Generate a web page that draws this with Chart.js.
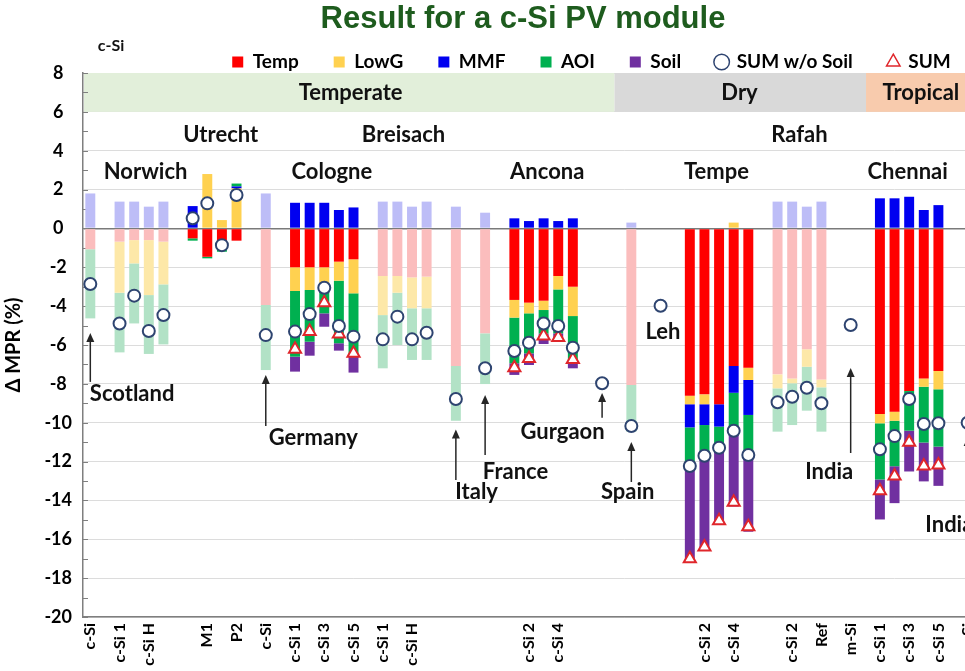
<!DOCTYPE html>
<html>
<head>
<meta charset="utf-8">
<script src="https://cdn.jsdelivr.net/npm/chart.js@4.4.1/dist/chart.umd.min.js"></script>
<style>
html,body{margin:0;padding:0;overflow:hidden;background:#fff;width:965px;height:671px;}
#wrap{position:relative;width:965px;height:671px;overflow:hidden;}
#title{position:absolute;top:0px;left:0;width:1046px;text-align:center;font:bold 31px "Liberation Sans",Arial,sans-serif;color:#1E5C1E;z-index:2;white-space:nowrap;line-height:36px;}
canvas{position:absolute;left:0;top:0;}
</style>
</head>
<body>
<div id="wrap">
  <div id="title">Result for a c-Si PV module</div>
  <canvas id="c" width="1183" height="671"></canvas>
</div>
<script>
// ---------- data ----------
const categories = [
  'c-Si','', 'c-Si 1','c-Si 2','c-Si H','c-Si P','',
  'c-Si','M1','P1','P2','',
  'c-Si','',
  'c-Si 1','c-Si 2','c-Si 3','c-Si 4','c-Si 5','',
  'c-Si 1','c-Si 2','c-Si H','c-Si P','',
  'c-Si','', 'c-Si','',
  'c-Si 1','c-Si 2','c-Si 3','c-Si 4','c-Si 5','',
  'c-Si','', 'c-Si','', 'c-Si','',
  'c-Si 1','c-Si 2','c-Si 3','c-Si 4','c-Si 5','',
  'c-Si 1','c-Si 2','c-Si 3','Ref','',
  'm-Si','',
  'c-Si 1','c-Si 2','c-Si 3','c-Si 4','c-Si 5','',
  'c-Si'
];
const hiddenTail = 13; // categories cropped off at the right edge

const temp = [
  -1.07,null, -0.68,-0.60,-0.60,-0.68,null,
  -0.51,-1.46,-1.10,-0.63,null,
  -3.94,null,
  -2.00,-2.00,-2.00,-1.71,-1.59,null,
  -2.45,-2.45,-2.52,-2.48,null,
  -7.08,null, -5.40,null,
  -3.68,-3.82,-3.72,-2.45,-3.00,null,
  null,null, -8.06,null, null,null,
  -8.61,-8.54,-9.05,-7.08,-7.17,null,
  -7.51,-7.72,-6.22,-7.77,null,
  null,null,
  -9.55,-9.43,-8.37,-7.72,-7.34,null,
  null
];
const lowG = [
  0,null, -2.63,-1.20,-2.83,-2.20,null,
  0,2.80,0.43,2.06,null,
  0,null,
  -1.22,-1.17,-1.17,-0.98,-1.75,null,
  -2.01,-0.86,-1.59,-1.63,null,
  0,null, 0,null,
  -0.91,-0.55,-0.48,-0.69,-1.51,null,
  null,null, 0,null, null,null,
  -0.44,-0.51,0,0.30,-0.63,null,
  -0.72,-0.25,-0.90,-0.41,null,
  null,null,
  -0.48,-0.47,0,-0.43,-0.94,null,
  null
];
const mmf = [
  1.80,null, 1.38,1.38,1.12,1.38,null,
  1.15,0,0,0.10,null,
  1.80,null,
  1.32,1.32,1.32,0.95,1.08,null,
  1.38,1.38,1.12,1.38,null,
  1.12,null, 0.81,null,
  0.52,0.38,0.52,0.38,0.52,null,
  null,null, 0.30,null, null,null,
  -1.19,-1.07,-1.15,-1.38,-1.80,null,
  1.38,1.38,1.12,1.38,null,
  null,null,
  1.55,1.55,1.63,0.95,1.20,null,
  null
];
const aoi = [
  -3.56,null, -3.07,-3.09,-3.03,-3.09,null,
  -0.12,-0.08,-0.10,0.15,null,
  -3.35,null,
  -3.38,-2.66,-1.20,-3.22,-3.21,null,
  -2.74,-2.69,-2.66,-2.66,null,
  -2.82,null, -2.61,null,
  -2.35,-2.06,-1.21,-2.26,-2.26,null,
  null,null, -2.41,null, null,null,
  -1.99,-1.58,-1.09,-1.95,-2.06,null,
  -2.23,-2.15,-2.26,-2.28,null,
  null,null,
  -2.89,-2.34,-2.04,-2.87,-2.95,null,
  null
];
const soil = [
  null,null, null,null,null,null,null,
  null,null,null,null,null,
  null,null,
  -0.77,-0.72,-0.69,-0.38,-0.87,null,
  null,null,null,null,null,
  null,null, null,null,
  -0.60,-0.60,-0.54,-0.43,-0.43,null,
  null,null, null,null, null,null,
  -4.84,-4.80,-3.85,-3.90,-3.95,null,
  null,null,null,null,null,
  null,null,
  -2.06,-1.90,-2.10,-2.00,-2.02,null,
  null
];
const sumWoSoil = [
  -2.86,null, -4.89,-3.46,-5.28,-4.46,null,
  0.52,1.29,-0.86,1.72,null,
  -5.49,null,
  -5.31,-4.41,-3.05,-5.02,-5.57,null,
  -5.71,-4.54,-5.71,-5.37,null,
  -8.78,null, -7.20,null,
  -6.31,-5.88,-4.89,-5.02,-6.14,null,
  -7.97,null, -10.17,null, -3.98,null,
  -12.23,-11.70,-11.29,-10.41,-11.66,null,
  -8.95,-8.66,-8.20,-9.00,null,
  -4.97,null,
  -11.37,-10.69,-8.78,-10.07,-10.03,null,
  -10.00
];
const sumAll = [
  null,null, null,null,null,null,null,
  null,null,null,null,null,
  null,null,
  -6.22,-5.31,-3.82,-5.43,-6.43,null,
  null,null,null,null,null,
  null,null, null,null,
  -7.17,-6.69,-5.54,-5.61,-6.74,null,
  null,null, null,null, null,null,
  -17.00,-16.40,-15.04,-14.10,-15.35,null,
  null,null,null,null,null,
  null,null,
  -13.50,-12.74,-11.01,-12.23,-12.18,null,
  null
];
// categories drawn with pale (translucent-looking) colours
const fadedIdx = [0,2,3,4,5,12,20,21,22,23,25,27,37,47,48,49,50];

// annotations in data coordinates (category index, % value)
const climateBands = [
  {text:'Temperate', from:-0.5, to:35.85, labelAt:17.8, color:'#E2EFDA'},
  {text:'Dry',       from:35.85, to:53.05, labelAt:44.4, color:'#D9D9D9'},
  {text:'Tropical',  from:53.05, to:75,   labelAt:56.8, color:'#F8CBAD'}
];
const siteLabels = [
  {text:'Norwich', x:3.78, y:2.9}, {text:'Utrecht', x:8.92, y:4.8},
  {text:'Breisach', x:21.42, y:4.8}, {text:'Cologne', x:16.52, y:2.9},
  {text:'Ancona', x:31.25, y:2.9}, {text:'Tempe', x:42.82, y:2.9},
  {text:'Rafah', x:48.5, y:4.8}, {text:'Chennai', x:55.9, y:2.9},
  {text:'Scotland', x:2.86, y:-8.52}, {text:'Germany', x:15.25, y:-10.79},
  {text:'Italy', x:26.42, y:-13.57}, {text:'France', x:29.08, y:-12.54},
  {text:'Gurgaon', x:32.3, y:-10.48}, {text:'Spain', x:36.75, y:-13.57},
  {text:'Leh', x:39.16, y:-5.33}, {text:'India', x:50.53, y:-12.54},
  {text:'India', x:58.75, y:-15.27}
];
const arrows = [
  {x:0, from:-7.9, to:-5.38}, {x:12, from:-10.17, to:-7.55},
  {x:25, from:-12.95, to:-10.35}, {x:27, from:-11.66, to:-8.57},
  {x:35, from:-9.75, to:-8.47}, {x:37, from:-13.05, to:-10.99},
  {x:52, from:-11.56, to:-7.19}, {x:60, from:-14.0, to:-10.73}
];
const cornerLabel = {text:'c-Si', x:1.42, y:9.39};

// ---------- styling ----------
const FONT = 'Lato';
const full = {temp:'#FF0000', lowG:'#FFD150', mmf:'#0000F0', aoi:'#00B050', soil:'#7030A0'};
const pale = {temp:'#FBBDBD', lowG:'#FDE8A8', mmf:'#BDBDF7', aoi:'#B2E2C6', soil:'#D4C0E3'};
const allLabels = categories.concat(Array(hiddenTail).fill(''));

function barSet(label, data, key) {
  return {
    type:'bar', label, data, stack:'parts', order:2,
    backgroundColor: c => fadedIdx.includes(c.dataIndex) ? pale[key] : full[key],
    borderWidth:0, barPercentage:0.68, categoryPercentage:1,
    legendFill: full[key], legendStroke: full[key], legendStyle:'rect', legendLW:0
  };
}

const notesPlugin = {
  id:'notes',
  beforeLayout(chart) {
    const lg = chart.legend;
    if (lg && !lg._patched) {
      const orig = lg.fit;
      lg.fit = function() { orig.call(this); this.height = 55.5; };
      lg._patched = true;
    }
  },
  beforeDatasetsDraw(chart) {
    const {ctx, scales:{x, y}, chartArea:ca} = chart;
    ctx.save();
    const yt = y.getPixelForValue(8), yb = y.getPixelForValue(6);
    climateBands.forEach(b => {
      const x0 = Math.max(ca.left + 1, x.getPixelForValue(b.from));
      const x1 = Math.min(ca.right, x.getPixelForValue(b.to));
      ctx.fillStyle = b.color;
      ctx.fillRect(x0, yt, x1 - x0, yb - yt);
      ctx.fillStyle = '#111';
      ctx.font = `bold 22px ${FONT}`;
      ctx.textAlign = 'center'; ctx.textBaseline = 'middle';
      ctx.fillText(b.text, x.getPixelForValue(b.labelAt), y.getPixelForValue(7));
    });
    // small inner tick marks every 1 %
    ctx.strokeStyle = '#7f7f7f'; ctx.lineWidth = 1;
    for (let v = y.min; v <= y.max; v++) {
      const py = Math.round(y.getPixelForValue(v)) + 0.5;
      ctx.beginPath(); ctx.moveTo(ca.left, py); ctx.lineTo(ca.left + 5, py); ctx.stroke();
    }
    ctx.restore();
  },
  afterDatasetsDraw(chart) {
    const {ctx, scales:{x, y}} = chart;
    ctx.save();
    ctx.strokeStyle = '#262626'; ctx.fillStyle = '#262626'; ctx.lineWidth = 1.5;
    arrows.forEach(a => {
      const px = x.getPixelForValue(a.x);
      const p0 = y.getPixelForValue(a.from), p1 = y.getPixelForValue(a.to);
      ctx.beginPath(); ctx.moveTo(px, p0); ctx.lineTo(px, p1 + 6); ctx.stroke();
      ctx.beginPath(); ctx.moveTo(px, p1); ctx.lineTo(px - 4, p1 + 9); ctx.lineTo(px + 4, p1 + 9); ctx.closePath(); ctx.fill();
    });
    ctx.fillStyle = '#111';
    ctx.font = `bold 22px ${FONT}`;
    ctx.textAlign = 'center'; ctx.textBaseline = 'middle';
    siteLabels.forEach(l => ctx.fillText(l.text, x.getPixelForValue(l.x), y.getPixelForValue(l.y)));
    ctx.font = `bold 16px ${FONT}`;
    ctx.fillText(cornerLabel.text, x.getPixelForValue(cornerLabel.x), y.getPixelForValue(cornerLabel.y));
    ctx.restore();
  }
};

new Chart(document.getElementById('c'), {
  type:'bar',
  data:{
    labels: allLabels,
    datasets:[
      barSet('Temp', temp, 'temp'),
      barSet('LowG', lowG, 'lowG'),
      barSet('MMF', mmf, 'mmf'),
      barSet('AOI', aoi, 'aoi'),
      barSet('Soil', soil, 'soil'),
      {type:'line', label:'SUM w/o Soil', data:sumWoSoil, stack:'circ', order:0, showLine:false,
       pointStyle:'circle', pointRadius:6, pointBorderWidth:2, pointBackgroundColor:'#fff', pointBorderColor:'#2E4470',
       backgroundColor:'#fff', borderColor:'#2E4470',
       legendFill:'#fff', legendStroke:'#2E4470', legendStyle:'circle', legendLW:1.5},
      {type:'line', label:'SUM', data:sumAll, stack:'tri', order:1, showLine:false,
       pointStyle:'triangle', pointRadius:7, pointBorderWidth:2, pointBackgroundColor:'#fff', pointBorderColor:'#E0262B',
       backgroundColor:'#fff', borderColor:'#E0262B',
       legendFill:'#fff', legendStroke:'#E0262B', legendStyle:'triangle', legendLW:1.5}
    ]
  },
  options:{
    responsive:false, devicePixelRatio:1, animation:false,
    layout:{padding:{top:17.5, left:0, right:0, bottom:0}},
    plugins:{
      tooltip:{enabled:false},
      title:{display:false},
      legend:{
        display:true, position:'top',
        labels:{
          usePointStyle:true, boxWidth:11, boxHeight:11, padding:35, color:'#000',
          font:{family:FONT, size:19, weight:'bold'},
          sort:(a, b) => a.datasetIndex - b.datasetIndex,
          generateLabels(chart) {
            const items = Chart.defaults.plugins.legend.labels.generateLabels(chart);
            items.forEach(it => {
              const ds = chart.data.datasets[it.datasetIndex];
              it.fillStyle = ds.legendFill; it.strokeStyle = ds.legendStroke;
              it.pointStyle = ds.legendStyle; it.lineWidth = ds.legendLW;
            });
            return items;
          }
        }
      }
    },
    scales:{
      x:{
        stacked:true, offset:true,
        grid:{display:false, drawTicks:false},
        border:{display:true, color:'#7f7f7f', width:1.5},
        ticks:{
          autoSkip:false, minRotation:90, maxRotation:90, padding:6, color:'#000',
          font:{family:FONT, size:16, weight:'bold'},
          callback:(v, i) => (i % 2 === 0 ? allLabels[i] : '')
        },
        afterFit:s => { s.height = 54; }
      },
      y:{
        stacked:true, min:-20, max:8,
        ticks:{stepSize:2, crossAlign:'center', padding:11, color:'#000',
               font:{family:FONT, size:18, weight:'bold'}},
        grid:{drawTicks:false,
              color:c => c.tick && c.tick.value === 0 ? '#7a7a7a' : '#dcdcdc',
              lineWidth:c => c.tick && c.tick.value === 0 ? 1.5 : 1},
        border:{display:true, color:'#7f7f7f', width:1.5},
        title:{display:true, text:'Δ MPR (%)', color:'#000', padding:{top:2, bottom:0},
               font:{family:FONT, size:20, weight:'bold'}},
        afterFit:s => { s.width = 83; }
      }
    }
  },
  plugins:[notesPlugin]
});
</script>
</body>
</html>
